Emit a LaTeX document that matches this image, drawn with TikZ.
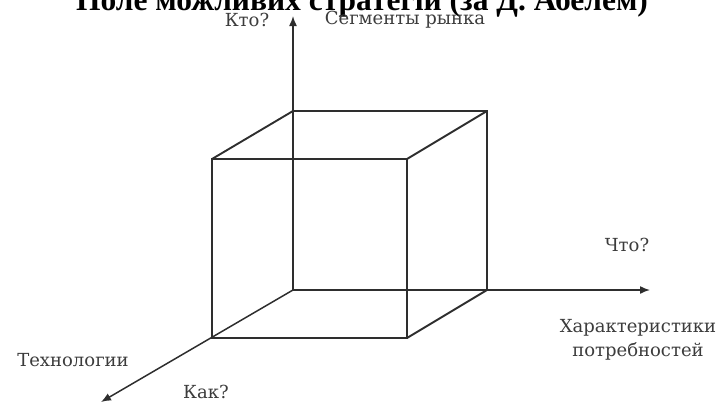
\documentclass[tikz,border=0pt]{standalone}
\usepackage{fontspec}
\setmainfont{DejaVu Serif}
\newfontfamily\titlefont{Liberation Serif}
\usetikzlibrary{arrows.meta}
\definecolor{inkgray}{HTML}{3C3C3C}
\definecolor{linegray}{HTML}{2E2E2E}
\tikzset{
  axis/.style={line width=1.5pt, linegray, -{Latex[length=10pt, width=8pt]}},
  edge/.style={line width=1.9pt, linegray},
  lbl/.style={inkgray, font=\fontsize{18}{21}\selectfont, inner sep=0pt}
}
\begin{document}
\begin{tikzpicture}[x=1pt, y=-1pt]
  \useasboundingbox (0,0) rectangle (723,407);
  % Title (cut at the top)
  \node[anchor=base, inner sep=0pt, font=\titlefont\bfseries\fontsize{31.5}{36}\selectfont]
    (title) at (362,10.5) {Поле можливих стратегій (за Д. Абелем)};
  % Cube corners
  \coordinate (o)  at (293,290);
  \coordinate (bt) at (293,111);
  \coordinate (br) at (487,290);
  \coordinate (btr) at (487,111);
  \coordinate (fl) at (212,338);
  \coordinate (ft) at (212,159);
  \coordinate (fr) at (407,338);
  \coordinate (ftr) at (407,159);
  % Axis ends
  \coordinate (yend) at (293,16);
  \coordinate (xend) at (650,290);
  \coordinate (zend) at (101,402);
  % Axes
  \draw[axis] (o) -- (yend);
  \draw[axis] (o) -- (xend);
  \draw[axis] (o) -- (zend);
  % Cube
  \draw[edge] (fl) -- (fr) -- (ftr) -- (ft) -- cycle;
  \draw[edge] (bt) -- (btr) -- (br);
  \draw[edge] (ft) -- (bt);
  \draw[edge] (ftr) -- (btr);
  \draw[edge] (fr) -- (br);
  % Labels
  \node[lbl] (who)  at (247,20) {Кто?};
  \node[lbl] (seg)  at (405,20) {Сегменты рынка};
  \node[lbl] (what) at (627,245) {Что?};
  \node[lbl, align=center] (needs) at (638,340)
    {Характеристики\\[3pt]потребностей};
  \node[lbl] (tech) at (73,360) {Технологии};
  \node[lbl] (how)  at (206,392) {Как?};
\end{tikzpicture}
\end{document}
